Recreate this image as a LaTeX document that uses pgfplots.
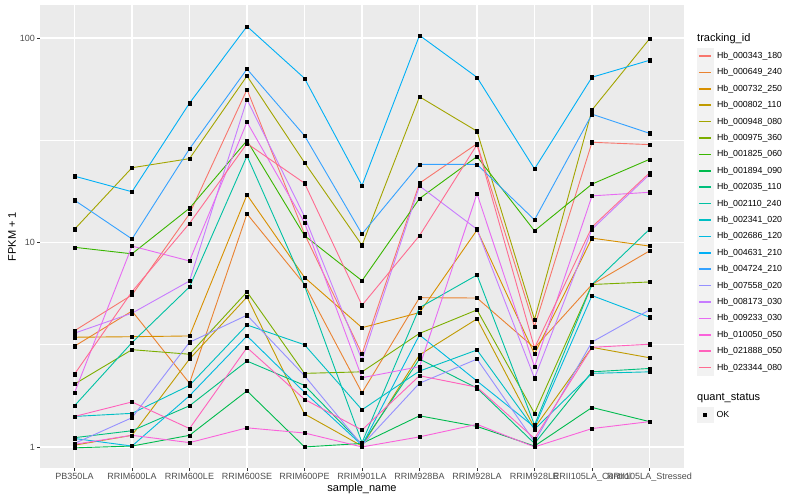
\documentclass[border=0pt]{standalone}
\usepackage{pgfplots}
\pgfplotsset{compat=1.18}
\usepackage{pgfplotstable}
\usepackage{fontspec}
\setmainfont{Liberation Sans}

\definecolor{panel}{HTML}{EBEBEB}
\definecolor{ticktext}{HTML}{4D4D4D}
\definecolor{tickcol}{HTML}{333333}
\definecolor{keybg}{HTML}{F2F2F2}
\definecolor{c1}{HTML}{F8766D}
\definecolor{c2}{HTML}{EA8331}
\definecolor{c3}{HTML}{D89000}
\definecolor{c4}{HTML}{C09B00}
\definecolor{c5}{HTML}{A3A500}
\definecolor{c6}{HTML}{7CAE00}
\definecolor{c7}{HTML}{39B600}
\definecolor{c8}{HTML}{00BB4E}
\definecolor{c9}{HTML}{00BF7D}
\definecolor{c10}{HTML}{00C1A3}
\definecolor{c11}{HTML}{00BFC4}
\definecolor{c12}{HTML}{00BAE0}
\definecolor{c13}{HTML}{00B0F6}
\definecolor{c14}{HTML}{35A2FF}
\definecolor{c15}{HTML}{9590FF}
\definecolor{c16}{HTML}{C77CFF}
\definecolor{c17}{HTML}{E76BF3}
\definecolor{c18}{HTML}{FA62DB}
\definecolor{c19}{HTML}{FF62BC}
\definecolor{c20}{HTML}{FF6C91}

% FPKM + 1 per sample (rows) and gene (columns s1..s20, legend order)
\pgfplotstableread{
x  s1   s2   s3   s4   s5   s6   s7   s8   s9   s10  s11  s12  s13  s14  s15  s16  s17  s18  s19  s20
0  3.70 3.11 3.44 1.02 11.6 2.03 9.47 0.99 1.11 1.59 1.41 1.10 21.1 16.1 1.04 3.60 1.84 1.03 1.41 2.27
1  5.54 4.62 3.46 1.14 23.2 2.99 8.80 1.01 1.20 3.24 1.46 1.01 17.7 10.4 1.39 4.51 9.60 1.14 1.66 5.75
2  13.8 2.05 3.49 2.69 25.7 2.84 14.7 1.14 1.59 6.06 2.00 1.78 48.0 28.7 3.25 6.48 8.12 1.05 1.23 12.4
3  56.0 13.8 17.1 5.41 65.2 5.73 31.5 1.88 2.63 26.5 3.95 3.49 114  70.5 4.41 50.0 38.8 1.24 3.06 30.5
4  11.0 6.24 6.75 1.45 24.6 2.29 10.8 1.00 2.00 6.15 3.16 1.85 63.5 33.3 2.23 13.4 12.5 1.17 1.71 19.5
5  2.85 1.84 3.83 1.01 9.69 2.33 6.50 1.04 1.03 1.05 1.52 1.02 19.0 11.0 1.02 2.66 2.18 1.00 1.21 4.93
6  19.5 5.37 4.54 2.82 51.6 3.59 16.4 1.42 2.69 4.80 2.35 3.53 103  24.1 2.05 18.9 2.47 1.12 2.23 10.8
7  30.4 5.35 11.5 4.23 35.0 4.68 26.3 1.26 1.94 6.93 2.98 2.10 64.2 24.1 2.69 11.6 17.3 1.29 1.96 30.1
8  3.88 3.05 2.85 1.24 4.20 1.46 11.4 1.01 1.04 1.28 1.22 1.25 22.9 12.9 1.06 2.17 2.47 1.00 1.10 3.05
9  30.9 6.23 10.5 3.07 44.5 6.23 19.3 1.56 2.33 6.23 2.29 5.50 64.3 42.4 3.26 11.6 16.9 1.23 3.07 11.9
10 30.1 9.09 9.60 2.73 99.0 6.41 25.5 1.33 2.42 11.6 2.33 4.31 77.8 34.2 4.68 21.5 17.6 1.33 3.18 21.9
}\fpkm

\pgfplotsset{
  ggkey/.style={
    legend image code/.code={
      \fill[keybg] (0pt,-7.75pt) rectangle (15.5pt,7.75pt);
      \draw[##1, line width=1.5pt] (1.5pt,0pt) -- (14pt,0pt);
    }
  },
  gglegend/.style={
    legend style={
      at={(1,1)}, anchor=north west, xshift=13pt, yshift=#1,
      draw=none, fill=none, inner sep=0pt, outer sep=0pt,
      row sep=0pt, column sep=3.6pt,
      nodes={inner sep=0pt},
      font=\fontsize{8.8}{10}\selectfont,
    },
    legend cell align=left,
  },
}

\begin{document}
\begin{tikzpicture}
\useasboundingbox (0pt,0pt) rectangle (800pt,500pt);

\begin{axis}[
  at={(40pt,32pt)}, anchor=south west,
  scale only axis, width=644pt, height=463pt,
  xmin=-0.6, xmax=10.6,
  ymode=log, ymin=0.789, ymax=145,
  axis background/.style={fill=panel},
  axis line style={draw=none},
  xtick={0,...,10},
  xticklabels={PB350LA,RRIM600LA,RRIM600LE,RRIM600SE,RRIM600PE,RRIM901LA,
    RRIM928BA,RRIM928LA,RRIM928LE,RRII105LA\_Control,RRII105LA\_Stressed},
  ytick={1,10,100}, yticklabels={{\mbox{1}},{\mbox{10}},{\mbox{100}}},
  minor ytick={3.1623,31.623},
  xtick pos=bottom, ytick pos=left,
  grid=both,
  major grid style={white, line width=1.2pt},
  minor grid style={white, line width=0.6pt},
  tick align=outside, major tick length=2.75pt, minor tick length=0pt,
  tick style={tickcol, line width=0.8pt},
  tick label style={font=\fontsize{9}{10}\selectfont, text=ticktext, inner sep=0pt},
  xticklabel shift=2.2pt, yticklabel shift=2.2pt,
  clip=false,
  ggkey, gglegend=-42.8pt,
  legend entries={Hb\_000343\_180,Hb\_000649\_240,Hb\_000732\_250,Hb\_000802\_110,
    Hb\_000948\_080,Hb\_000975\_360,Hb\_001825\_060,Hb\_001894\_090,Hb\_002035\_110,
    Hb\_002110\_240,Hb\_002341\_020,Hb\_002686\_120,Hb\_004631\_210,Hb\_004724\_210,
    Hb\_007558\_020,Hb\_008173\_030,Hb\_009233\_030,Hb\_010050\_050,Hb\_021888\_050,
    Hb\_023344\_080},
]
\pgfplotsinvokeforeach{1,...,20}{
  \addplot[c#1, line width=0.9pt, no markers] table[x=x, y=s#1] {\fpkm};
}
\pgfplotsinvokeforeach{1,...,20}{
  \addplot[forget plot, only marks, mark=square*, mark size=1.6pt, black] table[x=x, y=s#1] {\fpkm};
}
\end{axis}

% second legend (quant_status)
\begin{axis}[
  at={(40pt,32pt)}, anchor=south west,
  scale only axis, width=644pt, height=463pt,
  hide axis, xmin=0, xmax=1, ymin=0, ymax=1,
  gglegend=-401.8pt,
  legend image code/.code={
    \fill[keybg] (0pt,-7.75pt) rectangle (15.5pt,7.75pt);
    \draw[#1] plot coordinates {(7.75pt,0pt)};
  },
]
\addlegendimage{only marks, mark=square*, mark size=1.6pt, black}
\addlegendentry{OK}
\end{axis}

\node[anchor=west, inner sep=0pt, font=\fontsize{11}{13}\selectfont] at (697pt,461pt) {tracking\_id};
\node[anchor=west, inner sep=0pt, font=\fontsize{11}{13}\selectfont] at (697pt,102pt) {quant\_status};
\node[inner sep=0pt, font=\fontsize{11}{13}\selectfont] at (362pt,11.5pt) {sample\_name};
\node[inner sep=0pt, rotate=90, font=\fontsize{11}{13}\selectfont] at (12pt,263.5pt) {FPKM + 1};
\end{tikzpicture}
\end{document}
